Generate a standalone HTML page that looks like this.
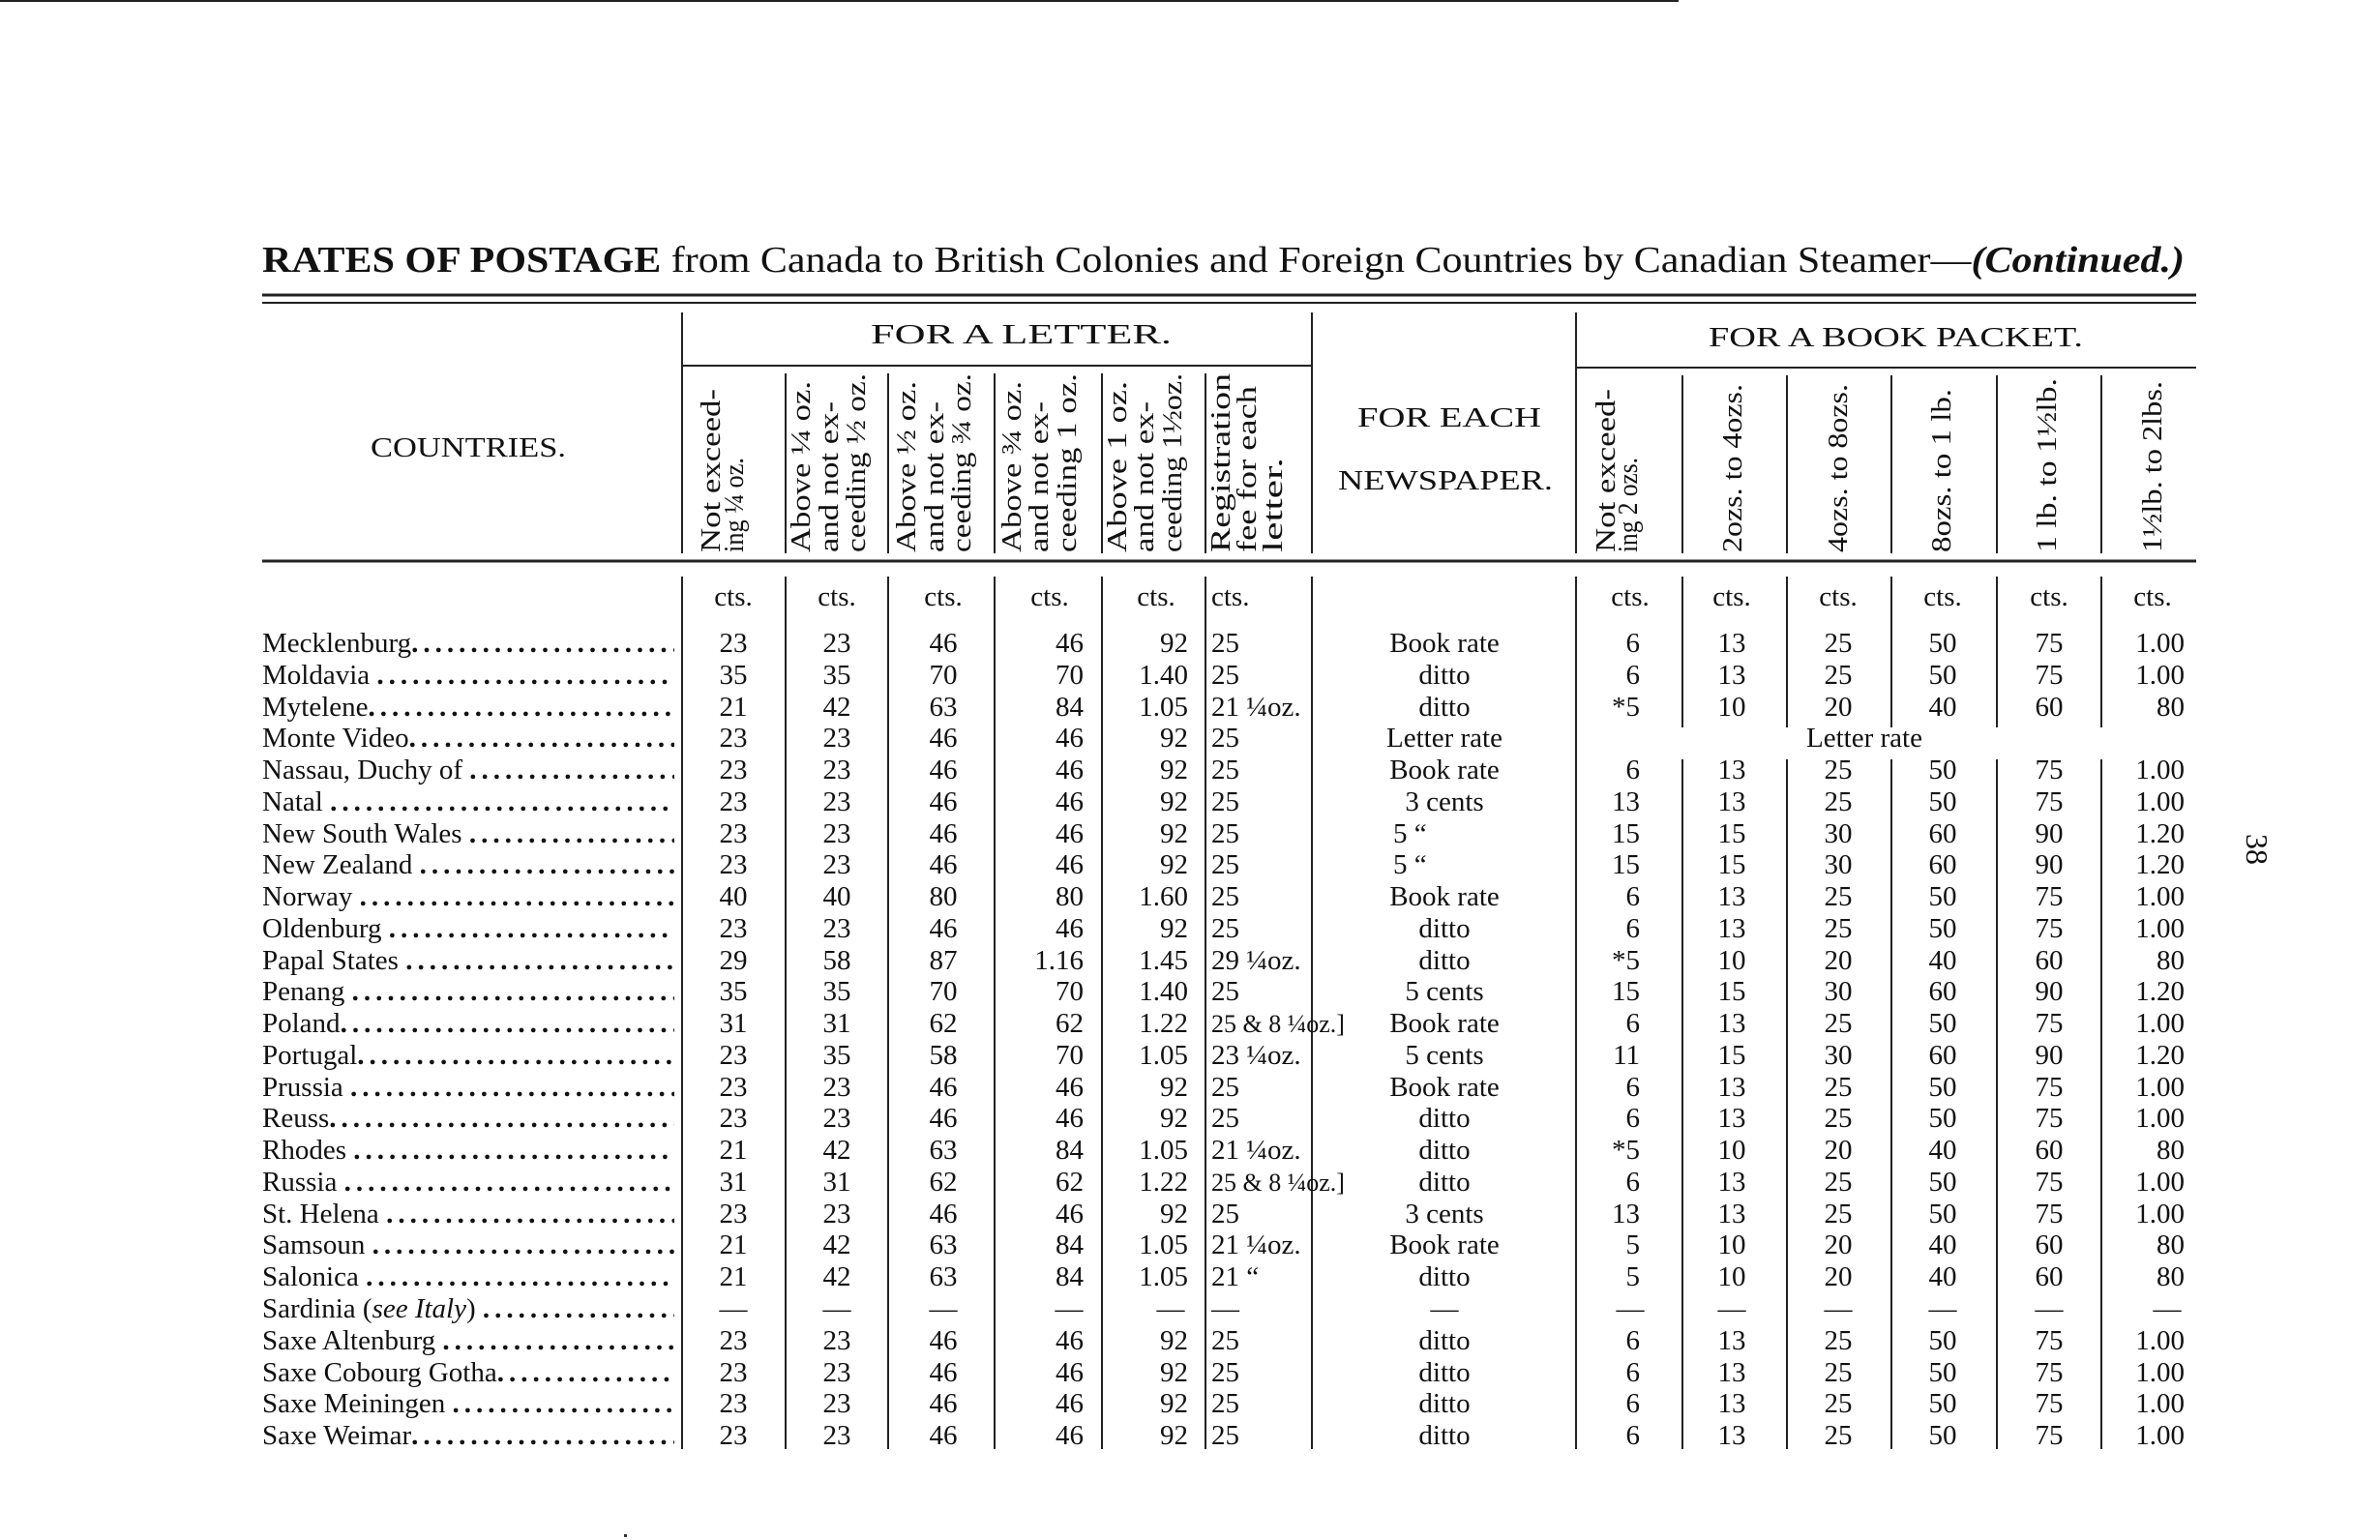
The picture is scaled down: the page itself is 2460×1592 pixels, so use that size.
<!DOCTYPE html>
<html><head><meta charset="utf-8"><style>
html,body{margin:0;padding:0;background:#fff}
svg{display:block}
text{font-family:"Liberation Serif",serif;fill:#111}
.d text{font-size:29px}
.c{text-anchor:middle}.r{text-anchor:end}
.h text{font-size:28px}
.dt{letter-spacing:5px;font-weight:bold}
</style></head><body>
<svg width="2460" height="1592" viewBox="0 0 2460 1592" xmlns="http://www.w3.org/2000/svg">
<defs><clipPath id="cc"><rect x="260" y="0" width="437" height="1592"/></clipPath></defs>
<line x1="0" y1="1" x2="1735" y2="1" stroke="#222" stroke-width="2"/>
<text x="271" y="281" textLength="1987" lengthAdjust="spacingAndGlyphs" style="font-size:38px"><tspan font-weight="bold">RATES OF POSTAGE</tspan> from Canada to British Colonies and Foreign Countries by Canadian Steamer—<tspan font-style="italic" font-weight="bold">(Continued.)</tspan></text>
<g stroke="#222">
<line x1="271" y1="305" x2="2270" y2="305" stroke-width="3"/>
<line x1="271" y1="313" x2="2270" y2="313" stroke-width="2"/>
<line x1="271" y1="580" x2="2270" y2="580" stroke-width="3"/>
<line x1="705" y1="378" x2="1356" y2="378" stroke-width="2"/>
<line x1="1629" y1="380" x2="2270" y2="380" stroke-width="2"/>
<g stroke-width="2">
<line x1="705" y1="323" x2="705" y2="572"/><line x1="1356" y1="323" x2="1356" y2="572"/><line x1="1629" y1="323" x2="1629" y2="572"/>
<line x1="812" y1="386" x2="812" y2="572"/><line x1="918" y1="386" x2="918" y2="572"/><line x1="1028" y1="386" x2="1028" y2="572"/><line x1="1139" y1="386" x2="1139" y2="572"/><line x1="1246" y1="386" x2="1246" y2="572"/>
<line x1="1739" y1="388" x2="1739" y2="572"/><line x1="1847" y1="388" x2="1847" y2="572"/><line x1="1955" y1="388" x2="1955" y2="572"/><line x1="2064" y1="388" x2="2064" y2="572"/><line x1="2172" y1="388" x2="2172" y2="572"/>
<line x1="705" y1="596" x2="705" y2="1498"/><line x1="812" y1="596" x2="812" y2="1498"/><line x1="918" y1="596" x2="918" y2="1498"/><line x1="1028" y1="596" x2="1028" y2="1498"/><line x1="1139" y1="596" x2="1139" y2="1498"/><line x1="1246" y1="596" x2="1246" y2="1498"/><line x1="1356" y1="596" x2="1356" y2="1498"/>
<line x1="1629" y1="596" x2="1629" y2="1498"/>
<line x1="1739" y1="596" x2="1739" y2="752"/><line x1="1847" y1="596" x2="1847" y2="752"/><line x1="1955" y1="596" x2="1955" y2="752"/><line x1="2064" y1="596" x2="2064" y2="752"/><line x1="2172" y1="596" x2="2172" y2="752"/>
<line x1="1739" y1="785" x2="1739" y2="1498"/><line x1="1847" y1="785" x2="1847" y2="1498"/><line x1="1955" y1="785" x2="1955" y2="1498"/><line x1="2064" y1="785" x2="2064" y2="1498"/><line x1="2172" y1="785" x2="2172" y2="1498"/>
</g></g>
<g style="font-size:28px">
<text x="900" y="355" textLength="311" lengthAdjust="spacingAndGlyphs">FOR  A  LETTER.</text>
<text x="1766" y="358" textLength="387" lengthAdjust="spacingAndGlyphs">FOR  A  BOOK  PACKET.</text>
<text x="383" y="472" textLength="202" lengthAdjust="spacingAndGlyphs">COUNTRIES.</text>
<text x="1403" y="441" textLength="190" lengthAdjust="spacingAndGlyphs">FOR  EACH</text>
<text x="1383" y="506" textLength="222" lengthAdjust="spacingAndGlyphs">NEWSPAPER.</text>
</g>
<g class="h">
<text transform="translate(744,571) rotate(-90)" textLength="169" lengthAdjust="spacingAndGlyphs">Not exceed-</text>
<text transform="translate(768,571) rotate(-90)" textLength="98" lengthAdjust="spacingAndGlyphs">ing ¼ oz.</text>
<text transform="translate(837,571) rotate(-90)" textLength="177" lengthAdjust="spacingAndGlyphs">Above ¼ oz.</text>
<text transform="translate(866,571) rotate(-90)" textLength="156" lengthAdjust="spacingAndGlyphs">and not ex-</text>
<text transform="translate(894,571) rotate(-90)" textLength="185" lengthAdjust="spacingAndGlyphs">ceeding ½ oz.</text>
<text transform="translate(946,571) rotate(-90)" textLength="177" lengthAdjust="spacingAndGlyphs">Above ½ oz.</text>
<text transform="translate(975,571) rotate(-90)" textLength="156" lengthAdjust="spacingAndGlyphs">and not ex-</text>
<text transform="translate(1003,571) rotate(-90)" textLength="185" lengthAdjust="spacingAndGlyphs">ceeding ¾ oz.</text>
<text transform="translate(1055,571) rotate(-90)" textLength="177" lengthAdjust="spacingAndGlyphs">Above ¾ oz.</text>
<text transform="translate(1083,571) rotate(-90)" textLength="156" lengthAdjust="spacingAndGlyphs">and not ex-</text>
<text transform="translate(1112,571) rotate(-90)" textLength="185" lengthAdjust="spacingAndGlyphs">ceeding 1 oz.</text>
<text transform="translate(1164,571) rotate(-90)" textLength="177" lengthAdjust="spacingAndGlyphs">Above 1 oz.</text>
<text transform="translate(1192,571) rotate(-90)" textLength="156" lengthAdjust="spacingAndGlyphs">and not ex-</text>
<text transform="translate(1221,571) rotate(-90)" textLength="185" lengthAdjust="spacingAndGlyphs">ceeding 1½oz.</text>
<text transform="translate(1271,571) rotate(-90)" textLength="185" lengthAdjust="spacingAndGlyphs">Registration</text>
<text transform="translate(1298,571) rotate(-90)" textLength="172" lengthAdjust="spacingAndGlyphs">fee for each</text>
<text transform="translate(1325,571) rotate(-90)" textLength="98" lengthAdjust="spacingAndGlyphs">letter.</text>
<text transform="translate(1669,571) rotate(-90)" textLength="169" lengthAdjust="spacingAndGlyphs">Not exceed-</text>
<text transform="translate(1692,571) rotate(-90)" textLength="98" lengthAdjust="spacingAndGlyphs">ing 2 ozs.</text>
<text transform="translate(1800,571) rotate(-90)" textLength="174" lengthAdjust="spacingAndGlyphs">2ozs. to 4ozs.</text>
<text transform="translate(1909,571) rotate(-90)" textLength="174" lengthAdjust="spacingAndGlyphs">4ozs. to 8ozs.</text>
<text transform="translate(2016,571) rotate(-90)" textLength="169" lengthAdjust="spacingAndGlyphs">8ozs. to 1 lb.</text>
<text transform="translate(2125,571) rotate(-90)" textLength="180" lengthAdjust="spacingAndGlyphs">1 lb. to 1½lb.</text>
<text transform="translate(2234,571) rotate(-90)" textLength="177" lengthAdjust="spacingAndGlyphs">1½lb. to 2lbs.</text>
</g>
<text transform="translate(2322,862) rotate(90)" style="font-size:32px">38</text>
<rect x="645" y="1586" width="3" height="3" fill="#333"/>
<g class="d">
<g transform="translate(0,626)"><text x="758" class="c">cts.</text><text x="865" class="c">cts.</text><text x="975" class="c">cts.</text><text x="1085" class="c">cts.</text><text x="1195" class="c">cts.</text><text x="1252">cts.</text><text x="1685" class="c">cts.</text><text x="1790" class="c">cts.</text><text x="1900" class="c">cts.</text><text x="2008" class="c">cts.</text><text x="2118" class="c">cts.</text><text x="2225" class="c">cts.</text></g>

<g clip-path="url(#cc)">
<text x="271" y="674">Mecklenburg<tspan class="dt">..............................</tspan></text>
<text x="271" y="707">Moldavia <tspan class="dt">..............................</tspan></text>
<text x="271" y="740">Mytelene<tspan class="dt">..............................</tspan></text>
<text x="271" y="772">Monte Video<tspan class="dt">..............................</tspan></text>
<text x="271" y="805">Nassau, Duchy of <tspan class="dt">..............................</tspan></text>
<text x="271" y="838">Natal <tspan class="dt">..............................</tspan></text>
<text x="271" y="871">New South Wales <tspan class="dt">..............................</tspan></text>
<text x="271" y="903">New Zealand <tspan class="dt">..............................</tspan></text>
<text x="271" y="936">Norway <tspan class="dt">..............................</tspan></text>
<text x="271" y="969">Oldenburg <tspan class="dt">..............................</tspan></text>
<text x="271" y="1002">Papal States <tspan class="dt">..............................</tspan></text>
<text x="271" y="1034">Penang <tspan class="dt">..............................</tspan></text>
<text x="271" y="1067">Poland<tspan class="dt">..............................</tspan></text>
<text x="271" y="1100">Portugal<tspan class="dt">..............................</tspan></text>
<text x="271" y="1133">Prussia <tspan class="dt">..............................</tspan></text>
<text x="271" y="1165">Reuss<tspan class="dt">..............................</tspan></text>
<text x="271" y="1198">Rhodes <tspan class="dt">..............................</tspan></text>
<text x="271" y="1231">Russia <tspan class="dt">..............................</tspan></text>
<text x="271" y="1264">St. Helena <tspan class="dt">..............................</tspan></text>
<text x="271" y="1296">Samsoun <tspan class="dt">..............................</tspan></text>
<text x="271" y="1329">Salonica <tspan class="dt">..............................</tspan></text>
<text x="271" y="1362">Sardinia (<tspan font-style="italic">see Italy</tspan>) <tspan class="dt">..............................</tspan></text>
<text x="271" y="1395">Saxe Altenburg <tspan class="dt">..............................</tspan></text>
<text x="271" y="1428">Saxe Cobourg Gotha<tspan class="dt">..............................</tspan></text>
<text x="271" y="1460">Saxe Meiningen <tspan class="dt">..............................</tspan></text>
<text x="271" y="1493">Saxe Weimar<tspan class="dt">..............................</tspan></text>
</g>

<g transform="translate(0,674)"><text x="758" class="c">23</text><text x="865" class="c">23</text><text x="975" class="c">46</text><text x="1120" class="r">46</text><text x="1228" class="r">92</text><text x="1252">25</text><text x="1493" class="c">Book rate</text><text x="1695" class="r">6</text><text x="1790" class="c">13</text><text x="1900" class="c">25</text><text x="2008" class="c">50</text><text x="2118" class="c">75</text><text x="2258" class="r">1.00</text></g>
<g transform="translate(0,707)"><text x="758" class="c">35</text><text x="865" class="c">35</text><text x="975" class="c">70</text><text x="1120" class="r">70</text><text x="1228" class="r">1.40</text><text x="1252">25</text><text x="1493" class="c">ditto</text><text x="1695" class="r">6</text><text x="1790" class="c">13</text><text x="1900" class="c">25</text><text x="2008" class="c">50</text><text x="2118" class="c">75</text><text x="2258" class="r">1.00</text></g>
<g transform="translate(0,740)"><text x="758" class="c">21</text><text x="865" class="c">42</text><text x="975" class="c">63</text><text x="1120" class="r">84</text><text x="1228" class="r">1.05</text><text x="1252">21 ¼oz.</text><text x="1493" class="c">ditto</text><text x="1695" class="r">*5</text><text x="1790" class="c">10</text><text x="1900" class="c">20</text><text x="2008" class="c">40</text><text x="2118" class="c">60</text><text x="2258" class="r">80</text></g>
<g transform="translate(0,772)"><text x="758" class="c">23</text><text x="865" class="c">23</text><text x="975" class="c">46</text><text x="1120" class="r">46</text><text x="1228" class="r">92</text><text x="1252">25</text><text x="1493" class="c">Letter rate</text><text x="1927" class="c">Letter rate</text></g>
<g transform="translate(0,805)"><text x="758" class="c">23</text><text x="865" class="c">23</text><text x="975" class="c">46</text><text x="1120" class="r">46</text><text x="1228" class="r">92</text><text x="1252">25</text><text x="1493" class="c">Book rate</text><text x="1695" class="r">6</text><text x="1790" class="c">13</text><text x="1900" class="c">25</text><text x="2008" class="c">50</text><text x="2118" class="c">75</text><text x="2258" class="r">1.00</text></g>
<g transform="translate(0,838)"><text x="758" class="c">23</text><text x="865" class="c">23</text><text x="975" class="c">46</text><text x="1120" class="r">46</text><text x="1228" class="r">92</text><text x="1252">25</text><text x="1493" class="c">3 cents</text><text x="1695" class="r">13</text><text x="1790" class="c">13</text><text x="1900" class="c">25</text><text x="2008" class="c">50</text><text x="2118" class="c">75</text><text x="2258" class="r">1.00</text></g>
<g transform="translate(0,871)"><text x="758" class="c">23</text><text x="865" class="c">23</text><text x="975" class="c">46</text><text x="1120" class="r">46</text><text x="1228" class="r">92</text><text x="1252">25</text><text x="1440">5   “</text><text x="1695" class="r">15</text><text x="1790" class="c">15</text><text x="1900" class="c">30</text><text x="2008" class="c">60</text><text x="2118" class="c">90</text><text x="2258" class="r">1.20</text></g>
<g transform="translate(0,903)"><text x="758" class="c">23</text><text x="865" class="c">23</text><text x="975" class="c">46</text><text x="1120" class="r">46</text><text x="1228" class="r">92</text><text x="1252">25</text><text x="1440">5   “</text><text x="1695" class="r">15</text><text x="1790" class="c">15</text><text x="1900" class="c">30</text><text x="2008" class="c">60</text><text x="2118" class="c">90</text><text x="2258" class="r">1.20</text></g>
<g transform="translate(0,936)"><text x="758" class="c">40</text><text x="865" class="c">40</text><text x="975" class="c">80</text><text x="1120" class="r">80</text><text x="1228" class="r">1.60</text><text x="1252">25</text><text x="1493" class="c">Book rate</text><text x="1695" class="r">6</text><text x="1790" class="c">13</text><text x="1900" class="c">25</text><text x="2008" class="c">50</text><text x="2118" class="c">75</text><text x="2258" class="r">1.00</text></g>
<g transform="translate(0,969)"><text x="758" class="c">23</text><text x="865" class="c">23</text><text x="975" class="c">46</text><text x="1120" class="r">46</text><text x="1228" class="r">92</text><text x="1252">25</text><text x="1493" class="c">ditto</text><text x="1695" class="r">6</text><text x="1790" class="c">13</text><text x="1900" class="c">25</text><text x="2008" class="c">50</text><text x="2118" class="c">75</text><text x="2258" class="r">1.00</text></g>
<g transform="translate(0,1002)"><text x="758" class="c">29</text><text x="865" class="c">58</text><text x="975" class="c">87</text><text x="1120" class="r">1.16</text><text x="1228" class="r">1.45</text><text x="1252">29 ¼oz.</text><text x="1493" class="c">ditto</text><text x="1695" class="r">*5</text><text x="1790" class="c">10</text><text x="1900" class="c">20</text><text x="2008" class="c">40</text><text x="2118" class="c">60</text><text x="2258" class="r">80</text></g>
<g transform="translate(0,1034)"><text x="758" class="c">35</text><text x="865" class="c">35</text><text x="975" class="c">70</text><text x="1120" class="r">70</text><text x="1228" class="r">1.40</text><text x="1252">25</text><text x="1493" class="c">5 cents</text><text x="1695" class="r">15</text><text x="1790" class="c">15</text><text x="1900" class="c">30</text><text x="2008" class="c">60</text><text x="2118" class="c">90</text><text x="2258" class="r">1.20</text></g>
<g transform="translate(0,1067)"><text x="758" class="c">31</text><text x="865" class="c">31</text><text x="975" class="c">62</text><text x="1120" class="r">62</text><text x="1228" class="r">1.22</text><text x="1252" style="font-size:26px">25 &amp; 8 ¼oz.]</text><text x="1493" class="c">Book rate</text><text x="1695" class="r">6</text><text x="1790" class="c">13</text><text x="1900" class="c">25</text><text x="2008" class="c">50</text><text x="2118" class="c">75</text><text x="2258" class="r">1.00</text></g>
<g transform="translate(0,1100)"><text x="758" class="c">23</text><text x="865" class="c">35</text><text x="975" class="c">58</text><text x="1120" class="r">70</text><text x="1228" class="r">1.05</text><text x="1252">23 ¼oz.</text><text x="1493" class="c">5 cents</text><text x="1695" class="r">11</text><text x="1790" class="c">15</text><text x="1900" class="c">30</text><text x="2008" class="c">60</text><text x="2118" class="c">90</text><text x="2258" class="r">1.20</text></g>
<g transform="translate(0,1133)"><text x="758" class="c">23</text><text x="865" class="c">23</text><text x="975" class="c">46</text><text x="1120" class="r">46</text><text x="1228" class="r">92</text><text x="1252">25</text><text x="1493" class="c">Book rate</text><text x="1695" class="r">6</text><text x="1790" class="c">13</text><text x="1900" class="c">25</text><text x="2008" class="c">50</text><text x="2118" class="c">75</text><text x="2258" class="r">1.00</text></g>
<g transform="translate(0,1165)"><text x="758" class="c">23</text><text x="865" class="c">23</text><text x="975" class="c">46</text><text x="1120" class="r">46</text><text x="1228" class="r">92</text><text x="1252">25</text><text x="1493" class="c">ditto</text><text x="1695" class="r">6</text><text x="1790" class="c">13</text><text x="1900" class="c">25</text><text x="2008" class="c">50</text><text x="2118" class="c">75</text><text x="2258" class="r">1.00</text></g>
<g transform="translate(0,1198)"><text x="758" class="c">21</text><text x="865" class="c">42</text><text x="975" class="c">63</text><text x="1120" class="r">84</text><text x="1228" class="r">1.05</text><text x="1252">21 ¼oz.</text><text x="1493" class="c">ditto</text><text x="1695" class="r">*5</text><text x="1790" class="c">10</text><text x="1900" class="c">20</text><text x="2008" class="c">40</text><text x="2118" class="c">60</text><text x="2258" class="r">80</text></g>
<g transform="translate(0,1231)"><text x="758" class="c">31</text><text x="865" class="c">31</text><text x="975" class="c">62</text><text x="1120" class="r">62</text><text x="1228" class="r">1.22</text><text x="1252" style="font-size:26px">25 &amp; 8 ¼oz.]</text><text x="1493" class="c">ditto</text><text x="1695" class="r">6</text><text x="1790" class="c">13</text><text x="1900" class="c">25</text><text x="2008" class="c">50</text><text x="2118" class="c">75</text><text x="2258" class="r">1.00</text></g>
<g transform="translate(0,1264)"><text x="758" class="c">23</text><text x="865" class="c">23</text><text x="975" class="c">46</text><text x="1120" class="r">46</text><text x="1228" class="r">92</text><text x="1252">25</text><text x="1493" class="c">3 cents</text><text x="1695" class="r">13</text><text x="1790" class="c">13</text><text x="1900" class="c">25</text><text x="2008" class="c">50</text><text x="2118" class="c">75</text><text x="2258" class="r">1.00</text></g>
<g transform="translate(0,1296)"><text x="758" class="c">21</text><text x="865" class="c">42</text><text x="975" class="c">63</text><text x="1120" class="r">84</text><text x="1228" class="r">1.05</text><text x="1252">21 ¼oz.</text><text x="1493" class="c">Book rate</text><text x="1695" class="r">5</text><text x="1790" class="c">10</text><text x="1900" class="c">20</text><text x="2008" class="c">40</text><text x="2118" class="c">60</text><text x="2258" class="r">80</text></g>
<g transform="translate(0,1329)"><text x="758" class="c">21</text><text x="865" class="c">42</text><text x="975" class="c">63</text><text x="1120" class="r">84</text><text x="1228" class="r">1.05</text><text x="1252">21    “</text><text x="1493" class="c">ditto</text><text x="1695" class="r">5</text><text x="1790" class="c">10</text><text x="1900" class="c">20</text><text x="2008" class="c">40</text><text x="2118" class="c">60</text><text x="2258" class="r">80</text></g>
<g transform="translate(0,1362)"><text x="758" class="c">—</text><text x="865" class="c">—</text><text x="975" class="c">—</text><text x="1105" class="c">—</text><text x="1210" class="c">—</text><text x="1252">—</text><text x="1493" class="c">—</text><text x="1685" class="c">—</text><text x="1790" class="c">—</text><text x="1900" class="c">—</text><text x="2008" class="c">—</text><text x="2118" class="c">—</text><text x="2240" class="c">—</text></g>
<g transform="translate(0,1395)"><text x="758" class="c">23</text><text x="865" class="c">23</text><text x="975" class="c">46</text><text x="1120" class="r">46</text><text x="1228" class="r">92</text><text x="1252">25</text><text x="1493" class="c">ditto</text><text x="1695" class="r">6</text><text x="1790" class="c">13</text><text x="1900" class="c">25</text><text x="2008" class="c">50</text><text x="2118" class="c">75</text><text x="2258" class="r">1.00</text></g>
<g transform="translate(0,1428)"><text x="758" class="c">23</text><text x="865" class="c">23</text><text x="975" class="c">46</text><text x="1120" class="r">46</text><text x="1228" class="r">92</text><text x="1252">25</text><text x="1493" class="c">ditto</text><text x="1695" class="r">6</text><text x="1790" class="c">13</text><text x="1900" class="c">25</text><text x="2008" class="c">50</text><text x="2118" class="c">75</text><text x="2258" class="r">1.00</text></g>
<g transform="translate(0,1460)"><text x="758" class="c">23</text><text x="865" class="c">23</text><text x="975" class="c">46</text><text x="1120" class="r">46</text><text x="1228" class="r">92</text><text x="1252">25</text><text x="1493" class="c">ditto</text><text x="1695" class="r">6</text><text x="1790" class="c">13</text><text x="1900" class="c">25</text><text x="2008" class="c">50</text><text x="2118" class="c">75</text><text x="2258" class="r">1.00</text></g>
<g transform="translate(0,1493)"><text x="758" class="c">23</text><text x="865" class="c">23</text><text x="975" class="c">46</text><text x="1120" class="r">46</text><text x="1228" class="r">92</text><text x="1252">25</text><text x="1493" class="c">ditto</text><text x="1695" class="r">6</text><text x="1790" class="c">13</text><text x="1900" class="c">25</text><text x="2008" class="c">50</text><text x="2118" class="c">75</text><text x="2258" class="r">1.00</text></g>
</g>
</svg>
</body></html>
